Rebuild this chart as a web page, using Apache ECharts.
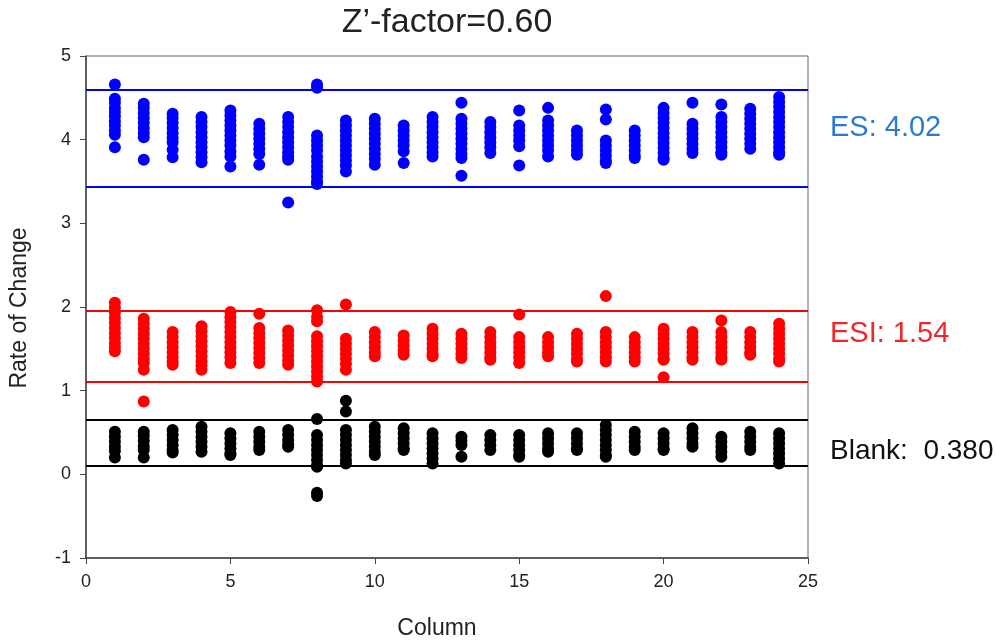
<!DOCTYPE html>
<html>
<head>
<meta charset="utf-8">
<script src="https://cdn.jsdelivr.net/npm/echarts@6/dist/echarts.min.js"></script>
<style>
  body { margin: 0; background: #fff; }
  #chart { width: 997px; height: 641px; }
</style>
</head>
<body>
<div id="chart"></div>
<script>
// values per column (1..24)
var esByColumn = [
  [4.66, 4.49, 4.44, 4.38, 4.33, 4.28, 4.22, 4.17, 4.11, 4.06, 3.91],
  [4.43, 4.38, 4.32, 4.26, 4.20, 4.14, 4.08, 4.03, 3.76],
  [4.31, 4.26, 4.20, 4.14, 4.08, 4.02, 3.97, 3.88, 3.79],
  [4.27, 4.21, 4.15, 4.09, 4.03, 3.97, 3.91, 3.85, 3.79, 3.73],
  [4.35, 4.29, 4.23, 4.17, 4.11, 4.05, 3.99, 3.93, 3.86, 3.80, 3.68],
  [4.19, 4.13, 4.07, 4.01, 3.95, 3.89, 3.83, 3.70],
  [4.27, 4.21, 4.15, 4.09, 4.03, 3.97, 3.91, 3.85, 3.80, 3.76, 3.25],
  [4.66, 4.62, 4.05, 3.99, 3.93, 3.87, 3.80, 3.74, 3.68, 3.62, 3.56, 3.50, 3.47],
  [4.23, 4.17, 4.11, 4.05, 3.99, 3.93, 3.87, 3.81, 3.75, 3.69, 3.62],
  [4.25, 4.19, 4.13, 4.07, 4.01, 3.95, 3.89, 3.83, 3.77, 3.70],
  [4.17, 4.11, 4.05, 3.99, 3.93, 3.86, 3.72],
  [4.27, 4.21, 4.15, 4.09, 4.03, 3.97, 3.91, 3.85, 3.80],
  [4.44, 4.25, 4.19, 4.13, 4.07, 4.01, 3.95, 3.89, 3.83, 3.78, 3.57],
  [4.21, 4.15, 4.09, 4.03, 3.97, 3.91, 3.84],
  [4.35, 4.17, 4.11, 4.05, 3.99, 3.92, 3.69],
  [4.38, 4.23, 4.17, 4.11, 4.05, 3.99, 3.93, 3.87, 3.80],
  [4.11, 4.05, 3.99, 3.93, 3.87, 3.82],
  [4.36, 4.24, 3.99, 3.93, 3.87, 3.81, 3.75, 3.72],
  [4.11, 4.05, 3.99, 3.93, 3.87, 3.81, 3.78],
  [4.38, 4.32, 4.26, 4.20, 4.14, 4.08, 4.02, 3.96, 3.90, 3.84, 3.78, 3.76],
  [4.44, 4.19, 4.13, 4.07, 4.01, 3.95, 3.89, 3.84],
  [4.42, 4.27, 4.21, 4.15, 4.09, 4.03, 3.97, 3.91, 3.85, 3.82],
  [4.37, 4.31, 4.25, 4.19, 4.13, 4.07, 4.01, 3.95, 3.89],
  [4.51, 4.45, 4.39, 4.33, 4.27, 4.21, 4.15, 4.09, 4.03, 3.97, 3.91, 3.85, 3.82]
];

var esiByColumn = [
  [2.05, 1.99, 1.93, 1.87, 1.81, 1.75, 1.69, 1.63, 1.57, 1.52, 1.47],
  [1.86, 1.80, 1.74, 1.68, 1.62, 1.56, 1.50, 1.44, 1.38, 1.33, 1.25, 0.87],
  [1.70, 1.64, 1.58, 1.52, 1.46, 1.40, 1.35, 1.31],
  [1.77, 1.71, 1.65, 1.59, 1.53, 1.47, 1.41, 1.35, 1.30, 1.25],
  [1.94, 1.88, 1.82, 1.76, 1.70, 1.64, 1.58, 1.52, 1.46, 1.40, 1.33],
  [1.92, 1.75, 1.69, 1.63, 1.57, 1.51, 1.45, 1.39, 1.33],
  [1.72, 1.66, 1.60, 1.54, 1.48, 1.42, 1.36, 1.31],
  [1.96, 1.88, 1.83, 1.65, 1.59, 1.53, 1.47, 1.41, 1.35, 1.29, 1.23, 1.17, 1.11],
  [2.03, 1.62, 1.56, 1.50, 1.44, 1.38, 1.32, 1.25],
  [1.70, 1.64, 1.58, 1.52, 1.46, 1.41],
  [1.66, 1.60, 1.54, 1.48, 1.43],
  [1.74, 1.68, 1.62, 1.56, 1.50, 1.44, 1.41],
  [1.68, 1.62, 1.56, 1.50, 1.44, 1.39],
  [1.70, 1.64, 1.58, 1.52, 1.46, 1.40, 1.37],
  [1.91, 1.64, 1.58, 1.52, 1.46, 1.40, 1.33],
  [1.64, 1.58, 1.52, 1.46, 1.41],
  [1.68, 1.62, 1.56, 1.50, 1.44, 1.38, 1.35],
  [2.13, 1.70, 1.64, 1.58, 1.52, 1.46, 1.40, 1.35],
  [1.64, 1.58, 1.52, 1.46, 1.40, 1.35],
  [1.74, 1.68, 1.62, 1.56, 1.50, 1.44, 1.38, 1.37, 1.16],
  [1.70, 1.64, 1.58, 1.52, 1.46, 1.40, 1.37],
  [1.84, 1.70, 1.64, 1.58, 1.52, 1.46, 1.40, 1.37],
  [1.70, 1.64, 1.58, 1.52, 1.46, 1.43],
  [1.80, 1.74, 1.68, 1.62, 1.56, 1.50, 1.44, 1.38, 1.35]
];

var blankByColumn = [
  [0.51, 0.45, 0.39, 0.33, 0.28, 0.20],
  [0.51, 0.46, 0.40, 0.34, 0.29, 0.20],
  [0.53, 0.47, 0.41, 0.35, 0.29, 0.26],
  [0.57, 0.51, 0.45, 0.39, 0.33, 0.27],
  [0.49, 0.43, 0.37, 0.31, 0.25, 0.23],
  [0.51, 0.45, 0.39, 0.33, 0.29],
  [0.53, 0.47, 0.41, 0.36, 0.33],
  [0.66, 0.47, 0.41, 0.35, 0.29, 0.23, 0.17, 0.11, 0.09, -0.22, -0.26],
  [0.88, 0.75, 0.53, 0.47, 0.41, 0.35, 0.29, 0.23, 0.17, 0.13],
  [0.57, 0.51, 0.45, 0.39, 0.33, 0.27, 0.23],
  [0.55, 0.49, 0.43, 0.37, 0.31, 0.29],
  [0.49, 0.43, 0.37, 0.31, 0.25, 0.19, 0.13],
  [0.45, 0.40, 0.35, 0.21],
  [0.47, 0.41, 0.35, 0.29],
  [0.47, 0.41, 0.35, 0.29, 0.23, 0.21],
  [0.49, 0.43, 0.37, 0.31, 0.27],
  [0.49, 0.43, 0.37, 0.31, 0.29],
  [0.59, 0.53, 0.47, 0.41, 0.35, 0.29, 0.23, 0.21],
  [0.51, 0.45, 0.39, 0.33, 0.29],
  [0.49, 0.43, 0.37, 0.31, 0.29],
  [0.55, 0.49, 0.43, 0.37, 0.33],
  [0.45, 0.39, 0.33, 0.27, 0.21],
  [0.51, 0.45, 0.39, 0.33, 0.29],
  [0.49, 0.43, 0.37, 0.31, 0.25, 0.19, 0.13]
];

// control limits (mean +/- 3 SD)
var esLimits = [4.60, 3.44];
var esiLimits = [1.96, 1.11];
var blankLimits = [0.65, 0.10];

var labels = ['ES: 4.02', 'ESI: 1.54', 'Blank:  0.380'];
var xTicks = [0, 5, 10, 15, 20, 25];
var yTicks = [-1, 0, 1, 2, 3, 4, 5];

function toPoints(cols) {
  var pts = [];
  cols.forEach(function (vals, i) {
    vals.forEach(function (v) { pts.push([i + 1, v]); });
  });
  return pts;
}

function limitLines(limits, color) {
  return {
    silent: true,
    symbol: 'none',
    label: { show: false },
    lineStyle: { color: color, type: 'solid', width: 2, opacity: 1 },
    data: limits.map(function (v) { return { yAxis: v }; })
  };
}

function group(name, cols, limits, color) {
  return {
    name: name,
    type: 'scatter',
    symbol: 'circle',
    symbolSize: 12,
    itemStyle: { color: color, opacity: 1 },
    data: toPoints(cols),
    markLine: limitLines(limits, color),
    z: 3
  };
}

var font = 'Liberation Sans, Arial, sans-serif';
var chart = echarts.init(document.getElementById('chart'));
chart.setOption({
  animation: false,
  backgroundColor: '#fff',
  grid: {
    left: 86, right: 189, top: 56, bottom: 83,
    show: true, borderColor: '#666', borderWidth: 1, backgroundColor: 'transparent'
  },
  xAxis: {
    type: 'value',
    min: xTicks[0], max: xTicks[xTicks.length - 1], interval: 5,
    axisLine: { show: true, onZero: false, lineStyle: { color: '#444', width: 1.5 } },
    axisTick: { show: true, length: 6, lineStyle: { color: '#444' } },
    axisLabel: { color: '#222', fontSize: 18, fontFamily: font, margin: 15 },
    splitLine: { show: false }
  },
  yAxis: {
    type: 'value',
    min: yTicks[0], max: yTicks[yTicks.length - 1], interval: 1,
    axisLine: { show: true, onZero: false, lineStyle: { color: '#444', width: 1.5 } },
    axisTick: { show: true, length: 6, lineStyle: { color: '#444' } },
    axisLabel: { color: '#222', fontSize: 18, fontFamily: font, margin: 15 },
    splitLine: { show: false }
  },
  series: [
    group('ES', esByColumn, esLimits, '#0000ff'),
    group('ESI', esiByColumn, esiLimits, '#ff0000'),
    group('Blank', blankByColumn, blankLimits, '#000000')
  ],
  graphic: [
    { type: 'text', x: 447, y: 23,
      style: { text: 'Z\u2019-factor=0.60', fontSize: 34, fontFamily: font, fill: '#222', align: 'center', verticalAlign: 'middle' } },
    { type: 'text', x: 20, y: 308, rotation: Math.PI / 2,
      style: { text: 'Rate of Change', fontSize: 23, fontFamily: font, fill: '#222', align: 'center', verticalAlign: 'middle' } },
    { type: 'text', x: 437, y: 629,
      style: { text: 'Column', fontSize: 23, fontFamily: font, fill: '#222', align: 'center', verticalAlign: 'middle' } },
    { type: 'text', x: 830, y: 128,
      style: { text: labels[0], fontSize: 29, fontFamily: font, fill: '#2b7bd0', verticalAlign: 'middle' } },
    { type: 'text', x: 830, y: 334,
      style: { text: labels[1], fontSize: 29, fontFamily: font, fill: '#f0262c', verticalAlign: 'middle' } },
    { type: 'text', x: 830, y: 451,
      style: { text: labels[2], fontSize: 28, fontFamily: font, fill: '#111', verticalAlign: 'middle' } }
  ]
});
</script>
</body>
</html>
